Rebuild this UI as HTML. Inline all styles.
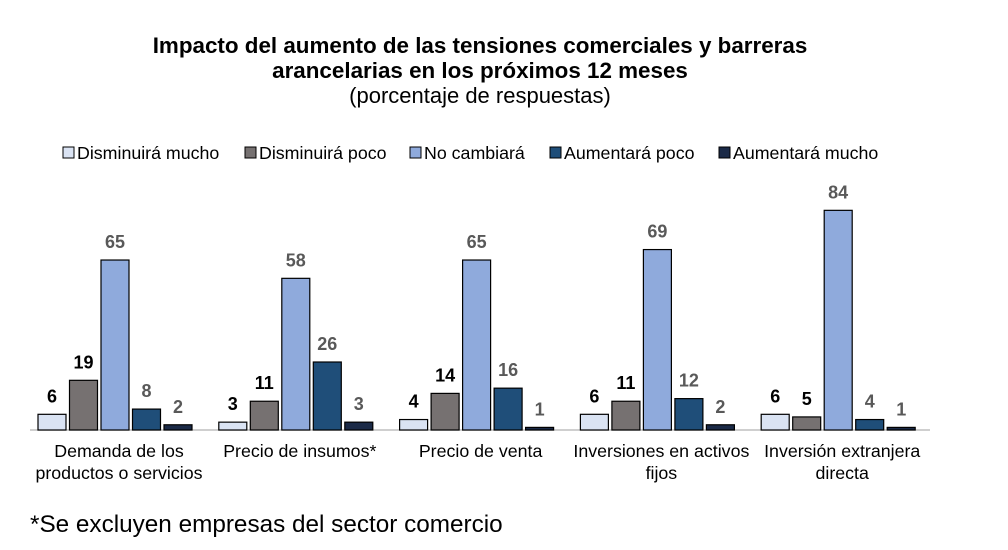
<!DOCTYPE html>
<html><head><meta charset="utf-8"><style>
body{margin:0;background:#fff;width:1008px;height:545px;overflow:hidden;font-family:"Liberation Sans",sans-serif}
</style></head><body>
<svg width="1008" height="545" xmlns="http://www.w3.org/2000/svg" font-family="Liberation Sans, sans-serif">
<text x="480" y="53" text-anchor="middle" font-size="22.4" font-weight="bold" fill="#000">Impacto del aumento de las tensiones comerciales y barreras</text>
<text x="480" y="78" text-anchor="middle" font-size="22.4" font-weight="bold" fill="#000">arancelarias en los próximos 12 meses</text>
<text x="480" y="103" text-anchor="middle" font-size="22" fill="#000">(porcentaje de respuestas)</text>
<g id="legend"></g>
<line x1="30" y1="430" x2="930" y2="430" stroke="#bfbfbf" stroke-width="1.5"/>
<g id="bars"></g>
<g id="cats"></g>
<text x="30" y="532" font-size="24.3" fill="#000">*Se excluyen  empresas del sector comercio</text>
</svg>
<script>
const categories=[["Demanda de los","productos o servicios"],["Precio de insumos*"],["Precio de venta"],["Inversiones en activos","fijos"],["Inversión extranjera","directa"]];
const seriesNames=["Disminuirá mucho","Disminuirá poco","No cambiará","Aumentará poco","Aumentará mucho"];
const dismMucho=[6,3,4,6,6];
const dismPoco=[19,11,14,11,5];
const noCambia=[65,58,65,69,84];
const aumPoco=[8,26,16,12,4];
const aumMucho=[2,3,1,2,1];
const series=[dismMucho,dismPoco,noCambia,aumPoco,aumMucho];
const colors=["#dae3f3","#767171","#8faadc","#1f4e79","#1b2a47"];
const labelColors=["#000","#000","#595959","#595959","#595959"];
const NS="http://www.w3.org/2000/svg";
const base=430,scale=2.615;
function y(v){return base-v*scale;}
function gx(i){return 38+i*180.8;}
function bx(i,s){return gx(i)+s*31.5;}
const bars=document.getElementById('bars'),cats=document.getElementById('cats'),leg=document.getElementById('legend');
function mk(tag,attrs,parent){const e=document.createElementNS(NS,tag);for(const k in attrs)e.setAttribute(k,attrs[k]);parent.appendChild(e);return e;}
series.forEach((arr,s)=>{arr.forEach((v,i)=>{
 const r=mk('rect',{x:bx(i,s),y:y(v),width:28,height:v*scale,fill:colors[s],stroke:"#000","stroke-width":1.2},bars);
 
 
 const t=mk('text',{x:bx(i,s)+14,y:y(v)-12,"text-anchor":"middle","font-size":18,"font-weight":"bold",fill:labelColors[s]},bars);
 t.textContent=v;
 
 
});});
categories.forEach((c,i)=>{c.forEach((line,j)=>{
 const t=mk('text',{x:gx(i)+81,y:457+j*22,"text-anchor":"middle","font-size":17.8,fill:"#000"},cats);
 t.textContent=line;
 
 
});});
const legX=[63,245,410,550,719];
seriesNames.forEach((n,s)=>{
 const r=mk('rect',{x:legX[s],y:147,width:11,height:11,fill:colors[s],stroke:"#000","stroke-width":1},leg);
 
 
 const t=mk('text',{x:legX[s]+14,y:159,"font-size":17.8,fill:"#000"},leg);
 t.textContent=n;
 
 
});
</script>
</body></html>
